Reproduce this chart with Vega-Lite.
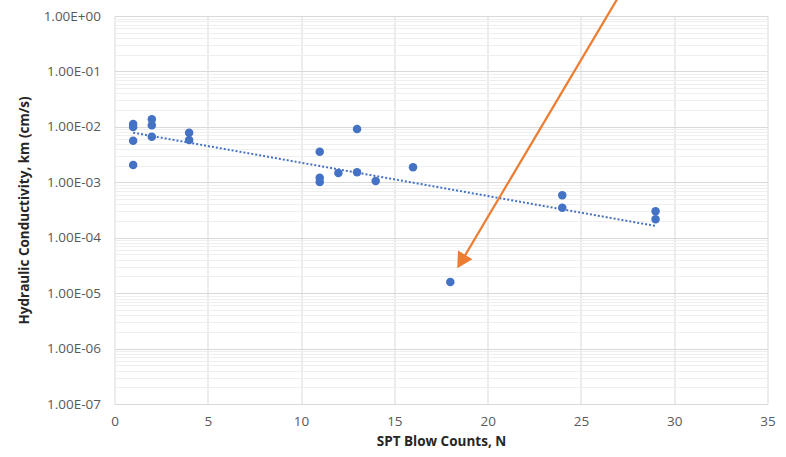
{
  "$schema": "https://vega.github.io/schema/vega-lite/v6.json",
  "autosize": {"type": "none"},
  "width": 653,
  "height": 388,
  "padding": {"left": 114.5, "top": 16, "right": 18.5, "bottom": 53},
  "background": "white",
  "config": {"view": {"stroke": null}, "font": "Open Sans"},
  "datasets": {
    "pts": [
      {"n": 1, "k": 0.0113}, {"n": 1, "k": 0.0099}, {"n": 1, "k": 0.0056}, {"n": 1, "k": 0.00205},
      {"n": 2, "k": 0.0137}, {"n": 2, "k": 0.0107}, {"n": 2, "k": 0.0066},
      {"n": 4, "k": 0.00785}, {"n": 4, "k": 0.0058},
      {"n": 11, "k": 0.00356}, {"n": 11, "k": 0.00121}, {"n": 11, "k": 0.00101},
      {"n": 12, "k": 0.00147},
      {"n": 13, "k": 0.00915}, {"n": 13, "k": 0.00151},
      {"n": 14, "k": 0.00105},
      {"n": 16, "k": 0.00186},
      {"n": 18, "k": 0.0000159},
      {"n": 24, "k": 0.000582}, {"n": 24, "k": 0.000348},
      {"n": 29, "k": 0.000299}, {"n": 29, "k": 0.000215}
    ],
    "trend": [{"n": 1, "k": 0.00785}, {"n": 29, "k": 0.000163}],
    "arrow": [{"n": 27.55, "k": 4.46}, {"n": 18.65, "k": 0.0000401}],
    "head": [{"n": 18.37, "k": 0.000028}]
  },
  "layer": [
    {
      "data": {"name": "trend"},
      "mark": {"type": "line", "color": "#4472C4", "strokeWidth": 2, "strokeDash": [2, 2]},
      "encoding": {
        "x": {
          "field": "n", "type": "quantitative",
          "scale": {"domain": [0, 35], "nice": false, "zero": false},
          "axis": {
            "values": [0, 5, 10, 15, 20, 25, 30, 35],
            "grid": true, "gridColor": "#D9D9D9", "gridWidth": 1,
            "ticks": false, "domain": false,
            "labelFont": "Open Sans", "labelFontSize": 13.5, "labelColor": "#595959", "labelPadding": 10,
            "labelFlush": false,
            "title": "SPT Blow Counts, N",
            "titleFont": "Open Sans", "titleFontSize": 13.5, "titleFontWeight": "bold", "titleColor": "#262626", "titlePadding": 7
          }
        },
        "y": {
          "field": "k", "type": "quantitative",
          "scale": {"type": "log", "domain": [1e-7, 1], "nice": false},
          "axis": {
            "values": [1e-7, 2e-7, 3e-7, 4e-7, 5e-7, 6e-7, 7e-7, 8e-7, 9e-7,
                       1e-6, 2e-6, 3e-6, 4e-6, 5e-6, 6e-6, 7e-6, 8e-6, 9e-6,
                       1e-5, 2e-5, 3e-5, 4e-5, 5e-5, 6e-5, 7e-5, 8e-5, 9e-5,
                       1e-4, 2e-4, 3e-4, 4e-4, 5e-4, 6e-4, 7e-4, 8e-4, 9e-4,
                       1e-3, 2e-3, 3e-3, 4e-3, 5e-3, 6e-3, 7e-3, 8e-3, 9e-3,
                       1e-2, 2e-2, 3e-2, 4e-2, 5e-2, 6e-2, 7e-2, 8e-2, 9e-2,
                       1e-1, 2e-1, 3e-1, 4e-1, 5e-1, 6e-1, 7e-1, 8e-1, 9e-1, 1],
            "labelExpr": "abs(log(datum.value)/LN10 - round(log(datum.value)/LN10)) < 0.001 ? '1.00E' + (round(log(datum.value)/LN10) < 0 ? '-' : '+') + '0' + abs(round(log(datum.value)/LN10)) : ''",
            "labelOverlap": false,
            "labelFlush": false,
            "grid": true,
            "gridColor": {"condition": {"test": "abs(log(datum.value)/LN10 - round(log(datum.value)/LN10)) < 0.001", "value": "#D9D9D9"}, "value": "#EFEFEF"},
            "gridWidth": 1,
            "ticks": false, "domain": false,
            "labelFont": "Open Sans", "labelFontSize": 13.5, "labelColor": "#595959", "labelPadding": 14,
            "title": "Hydraulic Conductivity, km (cm/s)",
            "titleFont": "Open Sans", "titleFontSize": 13.5, "titleFontWeight": "bold", "titleColor": "#262626", "titlePadding": 12
          }
        }
      }
    },
    {
      "data": {"name": "pts"},
      "mark": {"type": "point", "filled": true, "color": "#4472C4", "opacity": 1, "size": 72},
      "encoding": {
        "x": {"field": "n", "type": "quantitative"},
        "y": {"field": "k", "type": "quantitative"}
      }
    },
    {
      "data": {"name": "arrow"},
      "mark": {"type": "line", "color": "#ED7D31", "strokeWidth": 2.25},
      "encoding": {
        "x": {"field": "n", "type": "quantitative"},
        "y": {"field": "k", "type": "quantitative"}
      }
    },
    {
      "data": {"name": "head"},
      "mark": {"type": "point", "filled": true, "color": "#ED7D31", "opacity": 1, "size": 500, "angle": 210.7, "shape": "M0,0L-0.75,1.4L0.75,1.4Z"},
      "encoding": {
        "x": {"field": "n", "type": "quantitative"},
        "y": {"field": "k", "type": "quantitative"}
      }
    }
  ]
}
